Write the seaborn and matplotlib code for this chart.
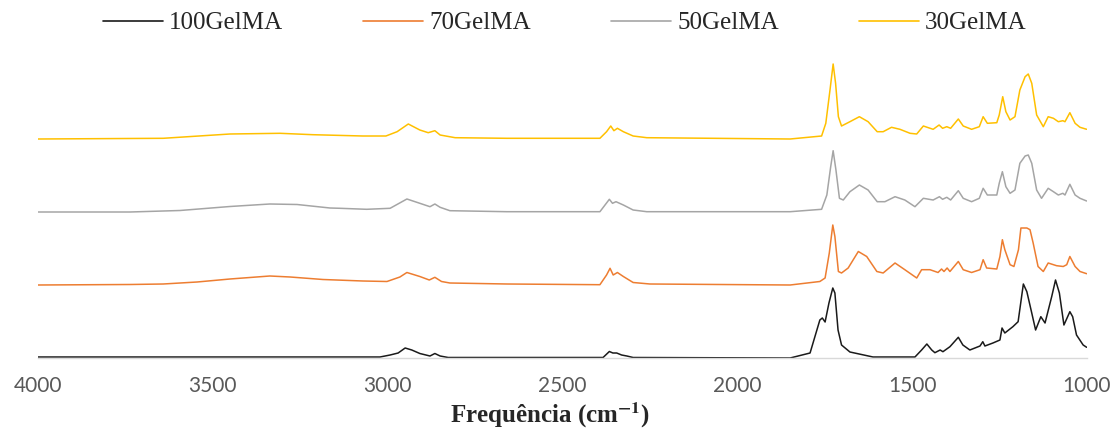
import seaborn as sns
import numpy as np
import pandas as pd
import matplotlib.pyplot as plt

# FTIR spectra (wavenumber in cm-1, relative absorbance)
wn_100 = [4000, 3737, 3022, 2993, 2970, 2950, 2931, 2908, 2879, 2865, 2850, 2827,
          2384, 2366, 2356, 2345, 2331, 2316, 2298, 1849, 1792, 1764, 1757, 1749,
          1738, 1727, 1721, 1712, 1702, 1678, 1612, 1543, 1492, 1473, 1458, 1444,
          1435, 1420, 1412, 1392, 1368, 1355, 1335, 1306, 1298, 1292, 1269, 1249,
          1243, 1235, 1212, 1197, 1182, 1172, 1158, 1147, 1132, 1120, 1101, 1090,
          1079, 1066, 1049, 1041, 1030, 1011, 1001]
ab_100 = [1, 1, 1, 3, 5, 10, 8, 4.5, 2, 4.5, 2, 0.5,
          0.5, 6.5, 5, 5, 3, 2, 0.5, 0, 5, 38, 40, 36,
          55, 70, 65, 28, 13, 6, 1, 1, 1, 8, 14, 8,
          5.3, 8, 6.3, 11.3, 20.7, 13, 8, 12, 16.3, 12, 15, 18,
          30, 25, 31.3, 36.3, 74, 66.3, 45, 28, 41.3, 35, 61.3, 78,
          65, 33, 46.3, 41.3, 23, 13, 10.7]

wn_70 = [4000, 3737, 3642, 3545, 3451, 3337, 3279, 3185, 3071, 3002, 2965, 2945,
         2908, 2881, 2865, 2846, 2822, 2659, 2393, 2374, 2364, 2355, 2343, 2326,
         2298, 2250, 1849, 1764, 1749, 1737, 1727, 1721, 1711, 1702, 1683, 1654,
         1630, 1601, 1583, 1549, 1521, 1487, 1473, 1449, 1426, 1416, 1409, 1400,
         1392, 1368, 1354, 1330, 1306, 1297, 1287, 1258, 1249, 1242, 1235, 1220,
         1209, 1196, 1189, 1172, 1163, 1154, 1140, 1125, 1111, 1087, 1068, 1058,
         1049, 1034, 1020, 1001]
ab_70 = [0, 0.5, 1, 3, 6, 9, 8, 5.5, 4, 3.5, 8, 12.5,
         8.5, 5, 7.7, 3.5, 2, 1, 0.3, 10, 16.7, 10, 12.5, 8.5,
         2.5, 1, 0, 3.5, 7, 32, 60, 48.5, 13.5, 12, 17, 33.5,
         28.5, 13.5, 12, 22, 15.3, 7, 15.3, 15.3, 12.5, 16, 13.5, 17,
         13.5, 23.5, 15.3, 12.5, 15.3, 25.3, 17, 16, 28.5, 45.3, 35.3, 20.3,
         18.5, 35.3, 57, 57, 55.3, 42, 18.5, 13.5, 22, 19.3, 18.5, 20.3,
         28.5, 18.5, 13.5, 11.3]

wn_50 = [4000, 3737, 3594, 3451, 3337, 3259, 3165, 3136, 3060, 2993, 2945, 2908,
         2879, 2865, 2850, 2822, 2659, 2393, 2366, 2357, 2347, 2326, 2298, 2259,
         1849, 1759, 1744, 1733, 1726, 1718, 1708, 1697, 1678, 1651, 1626, 1600,
         1578, 1549, 1521, 1492, 1468, 1440, 1422, 1413, 1401, 1390, 1368, 1354,
         1330, 1308, 1297, 1285, 1258, 1251, 1242, 1232, 1220, 1206, 1192, 1177,
         1168, 1158, 1144, 1130, 1111, 1096, 1082, 1069, 1063, 1049, 1034, 1020,
         1001]
ab_50 = [0, 0, 1.5, 5.5, 8, 7.5, 4, 3.7, 2.7, 3.7, 13, 8.7,
         5.3, 8, 4.7, 1.3, 0.3, 0.3, 12.7, 8.7, 10.3, 7, 2, 0.3,
         0.3, 2.7, 17, 45.3, 61.3, 42, 13.7, 12, 20.3, 27, 22, 10.3,
         10.3, 15.3, 12, 5.3, 13.7, 12, 15.3, 12.7, 14.7, 12, 21.3, 13.7,
         10.3, 13.7, 23.7, 17, 17, 28.7, 40.3, 25.3, 18.7, 22, 48.7, 56,
         57, 48.7, 22, 13.7, 23.7, 20.3, 17, 18.7, 17, 27.7, 17, 13.7,
         11]

wn_30 = [4000, 3642, 3451, 3308, 3214, 3071, 3005, 2973, 2941, 2908, 2884, 2865,
         2850, 2807, 2659, 2393, 2374, 2362, 2353, 2343, 2326, 2298, 2259, 1849,
         1759, 1747, 1735, 1726, 1719, 1711, 1702, 1678, 1651, 1626, 1600, 1583,
         1559, 1535, 1506, 1487, 1468, 1440, 1423, 1413, 1401, 1390, 1368, 1354,
         1330, 1308, 1297, 1285, 1258, 1251, 1241, 1232, 1220, 1206, 1192, 1177,
         1168, 1158, 1144, 1125, 1111, 1096, 1082, 1069, 1063, 1049, 1034, 1020,
         1001]
ab_30 = [0, 0.7, 5, 5.7, 4.3, 3, 3, 7.3, 15, 9, 6.3, 8.3,
         4, 1.3, 0.7, 0.7, 7.3, 13, 8.3, 10.7, 7.3, 3, 1.3, 0,
         3, 15.7, 49, 75, 55.7, 22.3, 13, 17.3, 22.3, 17.3, 7.3, 7.3,
         11.7, 9.7, 5.7, 5, 13, 9.7, 14, 10.7, 12.3, 10.7, 20, 13,
         9.7, 12.3, 22.3, 15.7, 16.3, 24, 42.3, 27.3, 19, 22.3, 49, 62.3,
         65, 55.7, 24, 12.3, 22.3, 20.7, 17.3, 18.3, 17.3, 26.3, 15.7, 11.7,
         9.7]

labels = ["100GelMA", "70GelMA", "50GelMA", "30GelMA"]
colors = ["#1a1a1a", "#ED7D31", "#A5A5A5", "#FFC000"]
offsets = [0, 73, 146, 219]

frames = []
for lab, wn, ab, off in zip(labels, [wn_100, wn_70, wn_50, wn_30],
                            [ab_100, ab_70, ab_50, ab_30], offsets):
    frames.append(pd.DataFrame({"wn": wn, "y": np.array(ab) + off, "amostra": lab}))
df = pd.concat(frames, ignore_index=True)

sns.set_style("white")
plt.rcParams["mathtext.fontset"] = "stix"

fig = plt.figure(figsize=(11.14, 4.3), dpi=100)
ax = fig.add_axes([38 / 1114, 72 / 430, 1049 / 1114, 313 / 430])

sns.lineplot(data=df, x="wn", y="y", hue="amostra", hue_order=labels,
             palette=colors, estimator=None, linewidth=1.1, ax=ax, legend=False)

ax.set_xlim(4000, 1000)
ax.set_ylim(0, 313)
ax.set_xticks([4000, 3500, 3000, 2500, 2000, 1500, 1000])
ax.set_yticks([])
ax.set_ylabel("")
for s in ["top", "right", "left"]:
    ax.spines[s].set_visible(False)
ax.spines["bottom"].set_color("#D9D9D9")
ax.spines["bottom"].set_linewidth(1.0)
ax.tick_params(axis="x", length=0, pad=13, labelsize=15, labelcolor="#595959")
for t in ax.get_xticklabels():
    t.set_fontfamily("Lato")

ax.set_xlabel("Frequência (cm$^{\\mathbf{-1}}$)", fontsize=18, fontweight="bold",
              family="Liberation Serif")
ax.xaxis.set_label_coords(0.488, -0.135)

handles = [plt.Line2D([], [], color=c, lw=1.2) for c in colors]
fig.legend(handles, labels, loc="upper center", bbox_to_anchor=(0.507, 1.025),
           ncol=4, frameon=False, handlelength=2.4, handletextpad=0.25,
           columnspacing=3.2, prop={"family": "Liberation Serif", "size": 18})

fig.savefig("out.png", dpi=100)
